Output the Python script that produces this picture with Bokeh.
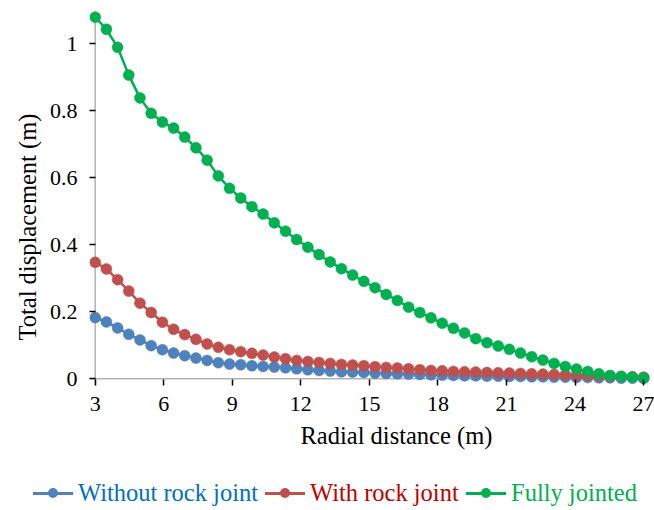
from bokeh.plotting import figure
from bokeh.models import Range1d, FixedTicker, BoxAnnotation, Title, Div
from bokeh.layouts import column
from bokeh.embed import file_html
from bokeh.resources import INLINE

# ---------------- data ----------------
radial_distance = [3.000, 3.490, 3.980, 4.469, 4.959, 5.449, 5.939, 6.429, 6.918, 7.408,
                   7.898, 8.388, 8.878, 9.367, 9.857, 10.347, 10.837, 11.327, 11.816, 12.306,
                   12.796, 13.286, 13.776, 14.265, 14.755, 15.245, 15.735, 16.224, 16.714, 17.204,
                   17.694, 18.184, 18.673, 19.163, 19.653, 20.143, 20.633, 21.122, 21.612, 22.102,
                   22.592, 23.082, 23.571, 24.061, 24.551, 25.041, 25.531, 26.020, 26.510, 27.000]

without_rock_joint = [0.183, 0.170, 0.152, 0.133, 0.116, 0.099, 0.087, 0.077, 0.069, 0.062,
                      0.055, 0.048, 0.044, 0.042, 0.039, 0.037, 0.035, 0.033, 0.030, 0.027,
                      0.025, 0.023, 0.021, 0.020, 0.019, 0.017, 0.016, 0.015, 0.014, 0.013,
                      0.012, 0.011, 0.010, 0.009, 0.009, 0.008, 0.008, 0.007, 0.007, 0.006,
                      0.006, 0.005, 0.005, 0.004, 0.004, 0.003, 0.003, 0.002, 0.002, 0.001]

with_rock_joint = [0.348, 0.328, 0.296, 0.262, 0.226, 0.198, 0.169, 0.148, 0.132, 0.118,
                   0.104, 0.094, 0.087, 0.081, 0.076, 0.071, 0.065, 0.060, 0.055, 0.052,
                   0.049, 0.046, 0.043, 0.041, 0.039, 0.036, 0.034, 0.032, 0.030, 0.027,
                   0.025, 0.024, 0.022, 0.021, 0.020, 0.019, 0.018, 0.017, 0.016, 0.015,
                   0.014, 0.013, 0.012, 0.011, 0.010, 0.009, 0.008, 0.007, 0.006, 0.005]

fully_jointed = [1.080, 1.044, 0.990, 0.907, 0.839, 0.793, 0.767, 0.749, 0.722, 0.690,
                 0.653, 0.606, 0.569, 0.540, 0.514, 0.492, 0.466, 0.441, 0.416, 0.393,
                 0.371, 0.349, 0.329, 0.310, 0.291, 0.272, 0.252, 0.234, 0.214, 0.198,
                 0.182, 0.166, 0.151, 0.137, 0.120, 0.108, 0.098, 0.088, 0.077, 0.066,
                 0.056, 0.046, 0.037, 0.029, 0.022, 0.015, 0.010, 0.007, 0.005, 0.003]

series_names = ["Without rock joint", "With rock joint", "Fully jointed"]
x_ticks = [3, 6, 9, 12, 15, 18, 21, 24, 27]
y_ticks = [0, 0.2, 0.4, 0.6, 0.8, 1.0]
y_tick_labels = ["0", "0.2", "0.4", "0.6", "0.8", "1"]
x_title = "Radial distance (m)"
y_title = "Total displacement (m)"
x_start, x_end = 3, 27
y_start = 0

# ---------------- styles ----------------
FONT = "Liberation Serif"
line_colors = ["#4F81BD", "#C0504D", "#00B050"]
text_colors = ["#0070C0", "#C00000", "#00B050"]
legend_x = [33, 265, 466]

p = figure(frame_width=561, frame_height=375,
           min_border_left=89, min_border_right=4, min_border_top=10, min_border_bottom=80,
           x_range=Range1d(2.75, 27.3), y_range=Range1d(-0.02, 1.1),
           output_backend="svg", toolbar_location=None)
p.outline_line_color = None
p.grid.visible = False

for ys, col in zip([without_rock_joint, with_rock_joint, fully_jointed], line_colors):
    p.line(radial_distance, ys, line_color=col, line_width=2.5)
    p.scatter(radial_distance, ys, size=11, fill_color=col, line_color=col, line_width=0.5)

# axis lines at x=3 and y=0
p.add_layout(BoxAnnotation(left=x_start, right=x_start, fill_alpha=0,
                           line_color="black", line_width=1.5, level="underlay"))
p.add_layout(BoxAnnotation(bottom=y_start, top=y_start, right=x_end, fill_alpha=0,
                           line_color="black", line_width=1.5, level="underlay"))

for ax in (p.xaxis[0], p.yaxis[0]):
    ax.axis_line_color = None
    ax.major_tick_line_color = "black"
    ax.major_tick_line_width = 1.5
    ax.major_tick_out = 0
    ax.major_tick_in = 6
    ax.minor_tick_line_color = None
    ax.major_label_text_font = FONT
    ax.major_label_text_font_size = "22px"
    ax.major_label_text_color = "black"

p.xaxis[0].ticker = FixedTicker(ticks=x_ticks)
p.yaxis[0].ticker = FixedTicker(ticks=y_ticks)
p.yaxis[0].major_label_overrides = {t: s for t, s in zip(y_ticks, y_tick_labels)}
p.xaxis[0].major_label_standoff = 11
p.yaxis[0].major_label_standoff = 12

# axis titles (offset like the original)
p.add_layout(Title(text=x_title, align="left", offset=211, standoff=12,
                   text_font=FONT, text_font_size="24.5px", text_font_style="normal",
                   text_color="black"), "below")
p.add_layout(Title(text=y_title, align="left", offset=45, standoff=12,
                   text_font=FONT, text_font_size="24.5px", text_font_style="normal",
                   text_color="black"), "left")

# ---------------- legend strip ----------------
items = []
for name, col, tc, lx in zip(series_names, line_colors, text_colors, legend_x):
    items.append(
        f'<div style="position:absolute;left:{lx}px;top:16px;display:flex;align-items:center;">'
        f'<span style="position:relative;display:inline-block;width:40px;height:3px;background:{col};">'
        f'<span style="position:absolute;left:15px;top:-3.5px;width:10px;height:10px;'
        f'border-radius:5px;background:{col};"></span></span>'
        f'<span style="color:{tc};margin-left:5px;line-height:1;">{name}</span></div>'
    )
legend_html = (f'<div style="position:relative;width:654px;height:45px;'
               f'font-family:\'{FONT}\',serif;font-size:24.5px;">' + "".join(items) + '</div>')
legend_div = Div(text=legend_html, width=654, height=45, margin=0)

layout = column(p, legend_div, spacing=0)
open("out.html", "w").write(file_html(layout, INLINE))
